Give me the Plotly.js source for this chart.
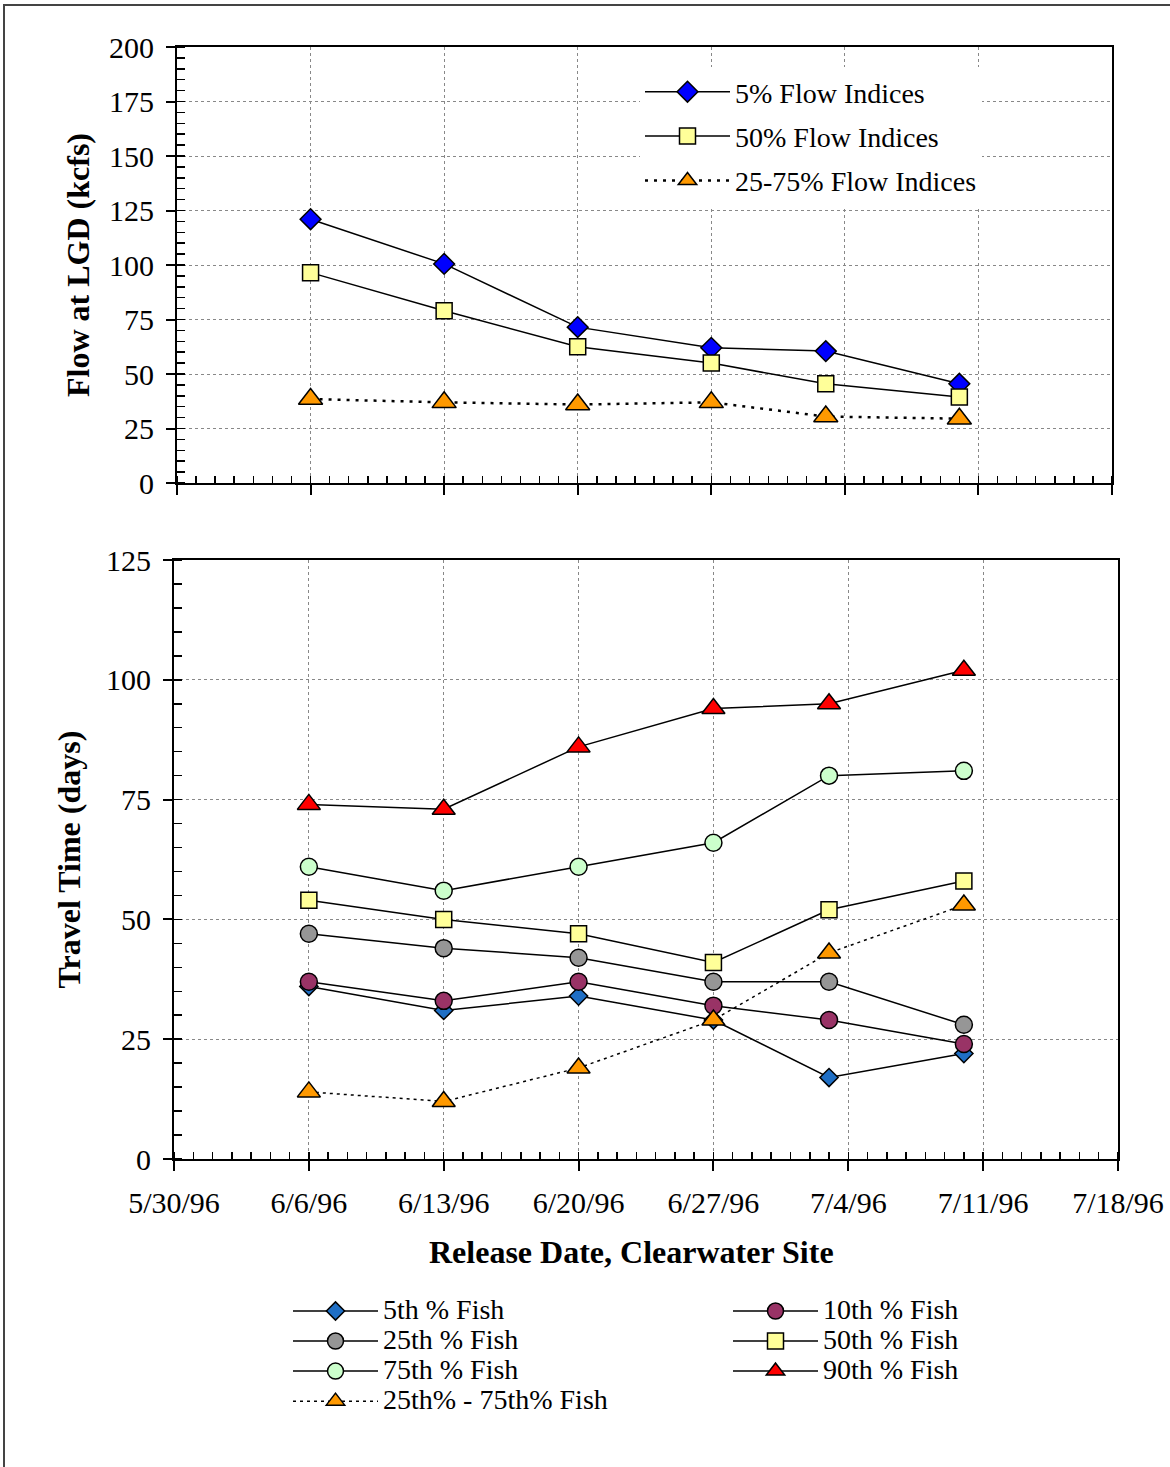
<!DOCTYPE html>
<html>
<head>
<meta charset="utf-8">
<script src="https://cdn.plot.ly/plotly-3.0.1.min.js"></script>
<style>
  html, body { margin: 0; padding: 0; background: #fff; }
  #chart { width: 1170px; height: 1467px; }
  #frame { position: absolute; left: 3px; top: 4px; width: 1200px; height: 1500px;
           border-left: 2px solid #444; border-top: 2px solid #444; pointer-events: none; }
</style>
</head>
<body>
<div id="chart"></div>
<div id="frame"></div>
<script>
// ---- Data ----
const releaseDates = ['1996-06-06', '1996-06-13', '1996-06-20', '1996-06-27', '1996-07-03', '1996-07-10'];

// Top panel: flow at LGD (kcfs)
const flow5 = [121, 100.5, 71.5, 62, 60.5, 45.5];
const flow50 = [96.5, 79, 62.5, 55, 45.5, 39.5];
const flow2575 = [38.5, 37, 36, 37, 30.5, 29.5];

// Bottom panel: travel time (days)
const fish5 = [36, 31, 34, 29, 17, 22];
const fish10 = [37, 33, 37, 32, 29, 24];
const fish25 = [47, 44, 42, 37, 37, 28];
const fish50 = [54, 50, 47, 41, 52, 58];
const fish75 = [61, 56, 61, 66, 80, 81];
const fish90 = [74, 73, 86, 94, 95, 102];
const fish2575 = [14, 12, 19, 29, 43, 53];

const topNames = ['5% Flow Indices', '50% Flow Indices', '25-75% Flow Indices'];
const fishNames = ['5th % Fish', '10th % Fish', '25th % Fish', '50th % Fish', '75th % Fish', '90th % Fish', '25th% - 75th% Fish'];
const yTitleTop = 'Flow at LGD (kcfs)';
const yTitleBottom = 'Travel Time (days)';
const xTitle = 'Release Date, Clearwater Site';

const xRange = ['1996-05-30', '1996-07-18'];
const DAY = 86400000;

// ---- Styling ----
const FONT = 'Liberation Serif, Times New Roman, serif';
const W = 1170, H = 1467;
const mk = (sym, size, color) => ({symbol: sym, size: size, color: color, line: {color: '#000', width: 1.5}});
const solid = {color: '#000', width: 1.5};
const big = t => '<span style="font-size:28px">' + t + '</span>';

const traces = [
  {x: releaseDates, y: flow5, name: topNames[0], xaxis: 'x', yaxis: 'y', mode: 'lines+markers',
   line: solid, marker: mk('diamond', 16, '#0000FF'), legend: 'legend', legendgroup: 'a'},
  {x: releaseDates, y: flow50, name: topNames[1], xaxis: 'x', yaxis: 'y', mode: 'lines+markers',
   line: solid, marker: mk('square', 16, '#FFFF99'), legend: 'legend', legendgroup: 'b'},
  {x: releaseDates, y: flow2575, name: topNames[2], xaxis: 'x', yaxis: 'y', mode: 'lines+markers',
   line: {color: '#000', width: 2.5, dash: '3px,6px'}, marker: mk('triangle-up', 21, '#FF9900'), legend: 'legend', legendgroup: 'c'},

  {x: releaseDates, y: fish5, name: big(fishNames[0]), xaxis: 'x2', yaxis: 'y2', mode: 'lines+markers',
   line: solid, marker: mk('diamond', 14, '#1F6FC5'), legend: 'legend2'},
  {x: releaseDates, y: fish10, name: big(fishNames[1]), xaxis: 'x2', yaxis: 'y2', mode: 'lines+markers',
   line: solid, marker: mk('circle', 17, '#993366'), legend: 'legend3'},
  {x: releaseDates, y: fish25, name: big(fishNames[2]), xaxis: 'x2', yaxis: 'y2', mode: 'lines+markers',
   line: solid, marker: mk('circle', 17, '#969696'), legend: 'legend2'},
  {x: releaseDates, y: fish50, name: big(fishNames[3]), xaxis: 'x2', yaxis: 'y2', mode: 'lines+markers',
   line: solid, marker: mk('square', 16, '#FFFF99'), legend: 'legend3'},
  {x: releaseDates, y: fish75, name: big(fishNames[4]), xaxis: 'x2', yaxis: 'y2', mode: 'lines+markers',
   line: solid, marker: mk('circle', 17, '#CCFFCC'), legend: 'legend2'},
  {x: releaseDates, y: fish90, name: big(fishNames[5]), xaxis: 'x2', yaxis: 'y2', mode: 'lines+markers',
   line: solid, marker: mk('triangle-up', 20, '#FF0000'), legend: 'legend3'},
  {x: releaseDates, y: fish2575, name: big(fishNames[6]), xaxis: 'x2', yaxis: 'y2', mode: 'lines+markers',
   line: {color: '#000', width: 1.5, dash: '3px,4px'}, marker: mk('triangle-up', 20, '#FF9900'), legend: 'legend2'}
];

const tickFont = {family: FONT, size: 30, color: '#000'};
const titleFont = {family: FONT, size: 32, color: '#000', weight: 'bold'};

function xAxis(domain, anchor, labels) {
  return {
    type: 'date', domain: domain, anchor: anchor, range: xRange, tick0: xRange[0], dtick: 7 * DAY,
    tickformat: '%-m/%-d/%y', showticklabels: labels, tickfont: tickFont,
    ticks: 'outside', ticklen: 10, tickwidth: 2, tickcolor: '#000', ticklabelstandoff: 6,
    showline: true, linewidth: 2, linecolor: '#000', mirror: true, zeroline: false,
    showgrid: true, gridcolor: '#888', gridwidth: 1, griddash: 'dot',
    minor: {tick0: xRange[0], dtick: DAY, ticks: 'inside', ticklen: 7, tickwidth: 1.5, tickcolor: '#000', showgrid: false}
  };
}
function yAxis(domain, anchor, range, title, standoff) {
  return {
    domain: domain, anchor: anchor, range: range, tick0: 0, dtick: 25, tickfont: tickFont,
    ticks: 'outside', ticklen: 9, tickwidth: 2, tickcolor: '#000', ticklabelstandoff: 6,
    showline: true, linewidth: 2, linecolor: '#000', mirror: true, zeroline: false,
    showgrid: true, gridcolor: '#888', gridwidth: 1, griddash: 'dot',
    minor: {tick0: 0, dtick: 5, ticks: 'inside', ticklen: 8, tickwidth: 1.5, tickcolor: '#000', showgrid: false},
    title: {text: title, font: titleFont, standoff: standoff}
  };
}
function overlayX(over, anchor) {
  return {type: 'date', overlaying: over, anchor: anchor, range: xRange, tick0: xRange[0], dtick: 7 * DAY,
    ticks: 'inside', ticklen: 8, tickwidth: 2, tickcolor: '#000', showticklabels: false,
    showgrid: false, showline: false, zeroline: false};
}
function overlayY(over, anchor, range) {
  return {overlaying: over, anchor: anchor, range: range, tick0: 0, dtick: 25, side: 'left',
    ticks: 'inside', ticklen: 10, tickwidth: 2, tickcolor: '#000', showticklabels: false,
    showgrid: false, showline: false, zeroline: false};
}

const topY = [1 - 483 / H, 1 - 47 / H];
const botY = [1 - 1159 / H, 1 - 560 / H];
const topX = [177 / W, 1112 / W];
const botX = [174 / W, 1118 / W];

const legendFontTop = {family: FONT, size: 28, color: '#000'};
const legendFontBot = {family: FONT, size: 20.8, color: '#000'};

const layout = {
  width: W, height: H,
  margin: {l: 0, r: 0, t: 0, b: 0},
  paper_bgcolor: '#fff', plot_bgcolor: '#fff',
  font: {family: FONT, color: '#000'},
  showlegend: true,
  xaxis: xAxis(topX, 'y', false),
  yaxis: yAxis(topY, 'x', [0, 200], yTitleTop, 10),
  xaxis2: xAxis(botX, 'y2', true),
  yaxis2: yAxis(botY, 'x2', [0, 125], yTitleBottom, 16),
  xaxis3: overlayX('x', 'y'),
  xaxis4: overlayX('x2', 'y2'),
  yaxis3: overlayY('y', 'x', [0, 200]),
  yaxis4: overlayY('y2', 'x2', [0, 125]),
  annotations: [
    {text: xTitle, xref: 'paper', yref: 'paper', x: 631 / W, y: 1 - 1252 / H, xanchor: 'center', yanchor: 'middle',
     showarrow: false, font: titleFont}
  ],
  legend: {x: 640 / W, y: 1 - 67 / H, xanchor: 'left', yanchor: 'top', bgcolor: '#fff', borderwidth: 0,
           font: legendFontTop, itemwidth: 85, tracegroupgap: 5, traceorder: 'grouped'},
  legend2: {x: 288 / W, y: 1 - 1291 / H, xanchor: 'left', yanchor: 'top', bgcolor: 'rgba(0,0,0,0)', borderwidth: 0,
           font: legendFontBot, itemwidth: 85},
  legend3: {x: 728 / W, y: 1 - 1291 / H, xanchor: 'left', yanchor: 'top', bgcolor: 'rgba(0,0,0,0)', borderwidth: 0,
           font: legendFontBot, itemwidth: 85}
};

Plotly.newPlot('chart', traces, layout, {displayModeBar: false, staticPlot: true});
</script>
</body>
</html>
